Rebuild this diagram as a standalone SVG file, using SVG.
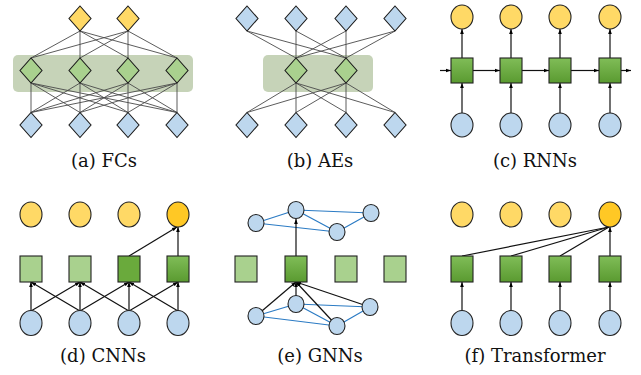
<svg xmlns="http://www.w3.org/2000/svg" width="641" height="375" viewBox="0 0 641 375">
<defs>
<linearGradient id="gd" x1="0" y1="0" x2="0" y2="1">
<stop offset="0" stop-color="#80bd58"/>
<stop offset="1" stop-color="#5a9a30"/>
</linearGradient>
<marker id="ar" markerUnits="userSpaceOnUse" markerWidth="5" markerHeight="5" viewBox="0 0 6 6" refX="6" refY="3" orient="auto">
<path d="M0,0.8 L6,3 L0,5.2 z" fill="#000"/>
</marker>
<style>
.band{fill:#c3d1b4;opacity:0.95}
.dy{fill:#ffd966;stroke:#1a1a1a;stroke-width:1.1}
.dg{fill:#a9d18e;stroke:#1a1a1a;stroke-width:1.1}
.db{fill:#bdd7ee;stroke:#1a1a1a;stroke-width:1.1}
.cy{fill:#ffd966;stroke:#222;stroke-width:1.1}
.co{fill:#ffc825;stroke:#222;stroke-width:1.1}
.cb{fill:#bdd7ee;stroke:#222;stroke-width:1.1}
.sg{fill:url(#gd);stroke:#222;stroke-width:1.1}
.sl{fill:#a9d18e;stroke:#222;stroke-width:1.1}
.sd{fill:#6aaa3c;stroke:#222;stroke-width:1.1}
.gn{fill:#bdd7ee;stroke:#222;stroke-width:1.1}
.fl{stroke:#4a4a4a;stroke-width:0.9;fill:none}
.ar{stroke:#111;stroke-width:1.2;fill:none;marker-end:url(#ar)}
.ln{stroke:#111;stroke-width:1.2;fill:none}
.ge{stroke:#2b7bc4;stroke-width:1.2;fill:none}
.lb{font-family:"DejaVu Serif","Liberation Serif",serif;font-size:18px;fill:#111;text-anchor:middle}
</style>
</defs>

<!-- (a) FCs -->
<rect class="band" x="13" y="55" width="180" height="37" rx="5"/>
<g id="a-connectors">
<path class="fl" d="M80,31 L31,58 M80,31 L80,58 M80,31 L128,58 M80,31 L177,58 M128,31 L31,58 M128,31 L80,58 M128,31 L128,58 M128,31 L177,58"/>
<path class="fl" d="M31,83 L31,112.5 M31,83 L80,112.5 M31,83 L128,112.5 M31,83 L177,112.5 M80,83 L31,112.5 M80,83 L80,112.5 M80,83 L128,112.5 M80,83 L177,112.5 M128,83 L31,112.5 M128,83 L80,112.5 M128,83 L128,112.5 M128,83 L177,112.5 M177,83 L31,112.5 M177,83 L80,112.5 M177,83 L128,112.5 M177,83 L177,112.5"/>
</g>
<g id="a-y1"><path class="dy" d="M80,6 L91,18.5 L80,31 L69,18.5 z"/></g>
<g id="a-y2"><path class="dy" d="M128,6 L139,18.5 L128,31 L117,18.5 z"/></g>
<g id="a-g1"><path class="dg" d="M31,58 L42,70.5 L31,83 L20,70.5 z"/></g>
<g id="a-g2"><path class="dg" d="M80,58 L91,70.5 L80,83 L69,70.5 z"/></g>
<g id="a-g3"><path class="dg" d="M128,58 L139,70.5 L128,83 L117,70.5 z"/></g>
<g id="a-g4"><path class="dg" d="M177,58 L188,70.5 L177,83 L166,70.5 z"/></g>
<g id="a-b1"><path class="db" d="M31,112.5 L42,125 L31,137.5 L20,125 z"/></g>
<g id="a-b2"><path class="db" d="M80,112.5 L91,125 L80,137.5 L69,125 z"/></g>
<g id="a-b3"><path class="db" d="M128,112.5 L139,125 L128,137.5 L117,125 z"/></g>
<g id="a-b4"><path class="db" d="M177,112.5 L188,125 L177,137.5 L166,125 z"/></g>
<text class="lb" x="104" y="167">(a) FCs</text>

<!-- (b) AEs -->
<rect class="band" x="263" y="55" width="110" height="37" rx="5"/>
<g id="b-connectors">
<path class="fl" d="M247,31 L296,58 M247,31 L346,58 M296,31 L296,58 M296,31 L346,58 M346,31 L296,58 M346,31 L346,58 M395,31 L296,58 M395,31 L346,58"/>
<path class="fl" d="M296,83 L247,112.5 M296,83 L296,112.5 M296,83 L346,112.5 M296,83 L395,112.5 M346,83 L247,112.5 M346,83 L296,112.5 M346,83 L346,112.5 M346,83 L395,112.5"/>
</g>
<g id="b-t1"><path class="db" d="M247,6 L258,18.5 L247,31 L236,18.5 z"/></g>
<g id="b-t2"><path class="db" d="M296,6 L307,18.5 L296,31 L285,18.5 z"/></g>
<g id="b-t3"><path class="db" d="M346,6 L357,18.5 L346,31 L335,18.5 z"/></g>
<g id="b-t4"><path class="db" d="M395,6 L406,18.5 L395,31 L384,18.5 z"/></g>
<g id="b-g1"><path class="dg" d="M296,58 L307,70.5 L296,83 L285,70.5 z"/></g>
<g id="b-g2"><path class="dg" d="M346,58 L357,70.5 L346,83 L335,70.5 z"/></g>
<g id="b-b1"><path class="db" d="M247,112.5 L258,125 L247,137.5 L236,125 z"/></g>
<g id="b-b2"><path class="db" d="M296,112.5 L307,125 L296,137.5 L285,125 z"/></g>
<g id="b-b3"><path class="db" d="M346,112.5 L357,125 L346,137.5 L335,125 z"/></g>
<g id="b-b4"><path class="db" d="M395,112.5 L406,125 L395,137.5 L384,125 z"/></g>
<text class="lb" x="320" y="167">(b) AEs</text>

<!-- (c) RNNs -->
<g id="c-connectors">
<line class="ar" x1="462" y1="113" x2="462" y2="83"/>
<line class="ar" x1="511" y1="113" x2="511" y2="83"/>
<line class="ar" x1="560" y1="113" x2="560" y2="83"/>
<line class="ar" x1="610" y1="113" x2="610" y2="83"/>
<line class="ar" x1="462" y1="58" x2="462" y2="29"/>
<line class="ar" x1="511" y1="58" x2="511" y2="29"/>
<line class="ar" x1="560" y1="58" x2="560" y2="29"/>
<line class="ar" x1="610" y1="58" x2="610" y2="29"/>
<line class="ar" x1="440" y1="70.5" x2="451" y2="70.5"/>
<line class="ar" x1="473" y1="70.5" x2="500" y2="70.5"/>
<line class="ar" x1="522" y1="70.5" x2="549" y2="70.5"/>
<line class="ar" x1="571" y1="70.5" x2="599" y2="70.5"/>
<line class="ar" x1="621" y1="70.5" x2="631" y2="70.5"/>
</g>
<g id="c-y1"><ellipse class="cy" cx="462" cy="17" rx="11" ry="12"/></g>
<g id="c-y2"><ellipse class="cy" cx="511" cy="17" rx="11" ry="12"/></g>
<g id="c-y3"><ellipse class="cy" cx="560" cy="17" rx="11" ry="12"/></g>
<g id="c-y4"><ellipse class="cy" cx="610" cy="17" rx="11" ry="12"/></g>
<g id="c-s1"><rect class="sg" x="451" y="58" width="22" height="25"/></g>
<g id="c-s2"><rect class="sg" x="500" y="58" width="22" height="25"/></g>
<g id="c-s3"><rect class="sg" x="549" y="58" width="22" height="25"/></g>
<g id="c-s4"><rect class="sg" x="599" y="58" width="22" height="25"/></g>
<g id="c-b1"><ellipse class="cb" cx="462" cy="125" rx="11" ry="12"/></g>
<g id="c-b2"><ellipse class="cb" cx="511" cy="125" rx="11" ry="12"/></g>
<g id="c-b3"><ellipse class="cb" cx="560" cy="125" rx="11" ry="12"/></g>
<g id="c-b4"><ellipse class="cb" cx="610" cy="125" rx="11" ry="12"/></g>
<text class="lb" x="535" y="167">(c) RNNs</text>

<!-- (d) CNNs -->
<g id="d-connectors">
<line class="ar" x1="31" y1="311" x2="31" y2="282"/>
<line class="ar" x1="31" y1="311" x2="80" y2="282"/>
<line class="ar" x1="80" y1="311" x2="31" y2="282"/>
<line class="ar" x1="80" y1="311" x2="80" y2="282"/>
<line class="ar" x1="80" y1="311" x2="129" y2="282"/>
<line class="ar" x1="129" y1="311" x2="80" y2="282"/>
<line class="ar" x1="129" y1="311" x2="129" y2="282"/>
<line class="ar" x1="129" y1="311" x2="178" y2="282"/>
<line class="ar" x1="178" y1="311" x2="129" y2="282"/>
<line class="ar" x1="178" y1="311" x2="178" y2="282"/>
<line class="ar" x1="129" y1="256" x2="177" y2="227"/>
<line class="ar" x1="178" y1="256" x2="178" y2="227"/>
</g>
<g id="d-y1"><ellipse class="cy" cx="31" cy="214.5" rx="11" ry="12.5"/></g>
<g id="d-y2"><ellipse class="cy" cx="80" cy="214.5" rx="11" ry="12.5"/></g>
<g id="d-y3"><ellipse class="cy" cx="129" cy="214.5" rx="11" ry="12.5"/></g>
<g id="d-y4"><ellipse class="co" cx="178" cy="214.5" rx="11" ry="12.5"/></g>
<g id="d-s1"><rect class="sl" x="20" y="256" width="22" height="26"/></g>
<g id="d-s2"><rect class="sl" x="69" y="256" width="22" height="26"/></g>
<g id="d-s3"><rect class="sd" x="118" y="256" width="22" height="26"/></g>
<g id="d-s4"><rect class="sg" x="167" y="256" width="22" height="26"/></g>
<g id="d-b1"><ellipse class="cb" cx="31" cy="323" rx="11" ry="12.5"/></g>
<g id="d-b2"><ellipse class="cb" cx="80" cy="323" rx="11" ry="12.5"/></g>
<g id="d-b3"><ellipse class="cb" cx="129" cy="323" rx="11" ry="12.5"/></g>
<g id="d-b4"><ellipse class="cb" cx="178" cy="323" rx="11" ry="12.5"/></g>
<text class="lb" x="103" y="362">(d) CNNs</text>

<!-- (e) GNNs -->
<g id="e-connectors">
<path class="ge" d="M256,223 L296,210 M296,210 L371,213 M296,210 L337,232 M256,223 L337,232 M337,232 L371,213"/>
<path class="ge" d="M256,316 L296,304 M296,304 L370,307 M296,304 L337,326 M256,316 L337,326 M337,326 L370,307"/>
<line class="ar" x1="296" y1="256" x2="296" y2="219"/>
<line class="ar" x1="256" y1="316" x2="296" y2="282"/>
<line class="ar" x1="296" y1="304" x2="296" y2="282"/>
<line class="ar" x1="370" y1="307" x2="296" y2="282"/>
<line class="ar" x1="337" y1="326" x2="296" y2="282"/>
</g>
<g id="e-s1"><rect class="sl" x="235" y="256" width="22" height="26"/></g>
<g id="e-s2"><rect class="sg" x="285" y="256" width="22" height="26"/></g>
<g id="e-s3"><rect class="sl" x="335" y="256" width="22" height="26"/></g>
<g id="e-s4"><rect class="sl" x="384" y="256" width="22" height="26"/></g>
<g id="e-n1"><ellipse class="gn" cx="256" cy="223" rx="8" ry="8.5"/></g>
<g id="e-n2"><ellipse class="gn" cx="296" cy="210" rx="8" ry="8.5"/></g>
<g id="e-n3"><ellipse class="gn" cx="371" cy="213" rx="8" ry="8.5"/></g>
<g id="e-n4"><ellipse class="gn" cx="337" cy="232" rx="8" ry="8.5"/></g>
<g id="e-m1"><ellipse class="gn" cx="256" cy="316" rx="8" ry="8.5"/></g>
<g id="e-m2"><ellipse class="gn" cx="296" cy="304" rx="8" ry="8.5"/></g>
<g id="e-m3"><ellipse class="gn" cx="370" cy="307" rx="8" ry="8.5"/></g>
<g id="e-m4"><ellipse class="gn" cx="337" cy="326" rx="8" ry="8.5"/></g>
<text class="lb" x="320" y="362">(e) GNNs</text>

<!-- (f) Transformer -->
<g id="f-connectors">
<line class="ar" x1="462" y1="311" x2="462" y2="282"/>
<line class="ar" x1="511" y1="311" x2="511" y2="282"/>
<line class="ar" x1="560" y1="311" x2="560" y2="282"/>
<line class="ar" x1="610" y1="311" x2="610" y2="282"/>
<line class="ln" x1="462" y1="256" x2="609" y2="227"/>
<line class="ln" x1="511" y1="256" x2="609" y2="227"/>
<line class="ln" x1="560" y1="256" x2="609" y2="227"/>
<line class="ar" x1="610" y1="256" x2="610" y2="227"/>
</g>
<g id="f-y1"><ellipse class="cy" cx="462" cy="214.5" rx="11" ry="12.5"/></g>
<g id="f-y2"><ellipse class="cy" cx="511" cy="214.5" rx="11" ry="12.5"/></g>
<g id="f-y3"><ellipse class="cy" cx="560" cy="214.5" rx="11" ry="12.5"/></g>
<g id="f-y4"><ellipse class="co" cx="610" cy="214.5" rx="11" ry="12.5"/></g>
<g id="f-s1"><rect class="sg" x="451" y="256" width="22" height="26"/></g>
<g id="f-s2"><rect class="sg" x="500" y="256" width="22" height="26"/></g>
<g id="f-s3"><rect class="sg" x="549" y="256" width="22" height="26"/></g>
<g id="f-s4"><rect class="sg" x="599" y="256" width="22" height="26"/></g>
<g id="f-b1"><ellipse class="cb" cx="462" cy="323" rx="11" ry="12.5"/></g>
<g id="f-b2"><ellipse class="cb" cx="511" cy="323" rx="11" ry="12.5"/></g>
<g id="f-b3"><ellipse class="cb" cx="560" cy="323" rx="11" ry="12.5"/></g>
<g id="f-b4"><ellipse class="cb" cx="610" cy="323" rx="11" ry="12.5"/></g>
<text class="lb" x="535" y="362">(f) Transformer</text>
</svg>
